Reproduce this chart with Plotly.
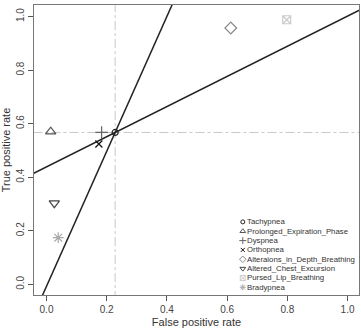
import plotly.graph_objects as go

# data
names = ["Tachypnea", "Prolonged_Expiration_Phase", "Dyspnea", "Orthopnea",
         "Alteraions_in_Depth_Breathing", "Altered_Chest_Excursion",
         "Pursed_Lip_Breathing", "Bradypnea"]
fpr = [0.228, 0.014, 0.183, 0.174, 0.612, 0.026, 0.798, 0.039]
tpr = [0.567, 0.570, 0.567, 0.524, 0.957, 0.303, 0.988, 0.174]
symbols = ["circle-open", "triangle-up-open", "cross-thin-open", "x-thin-open",
           "diamond-open", "triangle-down-open", "square-x-open", "asterisk-open"]
colors = ["#222222", "#555555", "#666666", "#111111", "#888888", "#444444",
          "#cccccc", "#aaaaaa"]
sizes = [6, 9, 9, 7, 9, 9, 8, 9]
leg_sizes = [4, 5, 5, 4, 5, 5, 5, 5]

line_slopes = [2.52, 0.563]
ref_x = 0.228
ref_y = 0.567

xr = [-0.0415, 1.038]
yr = [-0.04, 1.043]

fig = go.Figure()

# reference dash-dot lines
fig.add_trace(go.Scatter(x=[ref_x, ref_x], y=[-1, 2], mode="lines",
                         line=dict(color="#c8c8c8", width=1, dash="dashdot"),
                         showlegend=False, hoverinfo="skip"))
fig.add_trace(go.Scatter(x=[-1, 2], y=[ref_y, ref_y], mode="lines",
                         line=dict(color="#c8c8c8", width=1, dash="dashdot"),
                         showlegend=False, hoverinfo="skip"))

# lines through reference point
for s in line_slopes:
    xs = [-0.2, 1.2]
    ys = [ref_y + s * (x - ref_x) for x in xs]
    fig.add_trace(go.Scatter(x=xs, y=ys, mode="lines",
                             line=dict(color="#222222", width=1.5),
                             showlegend=False, hoverinfo="skip"))

# points
for n, x, y, sym, c, sz in zip(names, fpr, tpr, symbols, colors, sizes):
    fig.add_trace(go.Scatter(x=[x], y=[y], mode="markers", name=n,
                             marker=dict(symbol=sym, size=sz, color=c,
                                         line=dict(color=c, width=1.2)),
                             showlegend=False))

# manual legend (layout positions in data space)
leg_x = 0.652
leg_y0 = 0.233
leg_dy = 0.0349
for i, (n, sym, c, sz) in enumerate(zip(names, symbols, colors, leg_sizes)):
    yy = leg_y0 - i * leg_dy
    fig.add_trace(go.Scatter(x=[leg_x], y=[yy], mode="markers",
                             marker=dict(symbol=sym, size=sz, color=c,
                                         line=dict(color=c, width=1)),
                             showlegend=False, hoverinfo="skip"))
    fig.add_annotation(x=leg_x + 0.006, y=yy, text=n, showarrow=False,
                       xanchor="left", yanchor="middle", xref="x", yref="y",
                       font=dict(size=7.8, color="#333333",
                                 family="Liberation Sans, Arial"))

tickvals = [0, 0.2, 0.4, 0.6, 0.8, 1.0]
ticktext = ["0.0", "0.2", "0.4", "0.6", "0.8", "1.0"]

axis_common = dict(showgrid=False, zeroline=False, showline=True, mirror=True,
                   linecolor="#777777", linewidth=1.2, ticks="outside",
                   ticklen=5, tickcolor="#555555", tickwidth=1,
                   tickfont=dict(size=10, color="#444444",
                                 family="Liberation Sans, Arial"),
                   tickvals=tickvals, ticktext=ticktext)

fig.update_layout(
    width=361, height=329,
    margin=dict(l=34, r=2, t=5, b=34),
    paper_bgcolor="white", plot_bgcolor="white",
    font=dict(family="Liberation Sans, Arial", color="#333333"),
    xaxis=dict(range=xr, title=dict(text="False positive rate",
                                    font=dict(size=11, color="#333333"),
                                    standoff=4), **axis_common),
    yaxis=dict(range=yr, tickangle=-90,
               title=dict(text="True positive rate",
                          font=dict(size=11, color="#333333"), standoff=2),
               **axis_common),
    showlegend=False,
)

fig.write_html("out.html")
